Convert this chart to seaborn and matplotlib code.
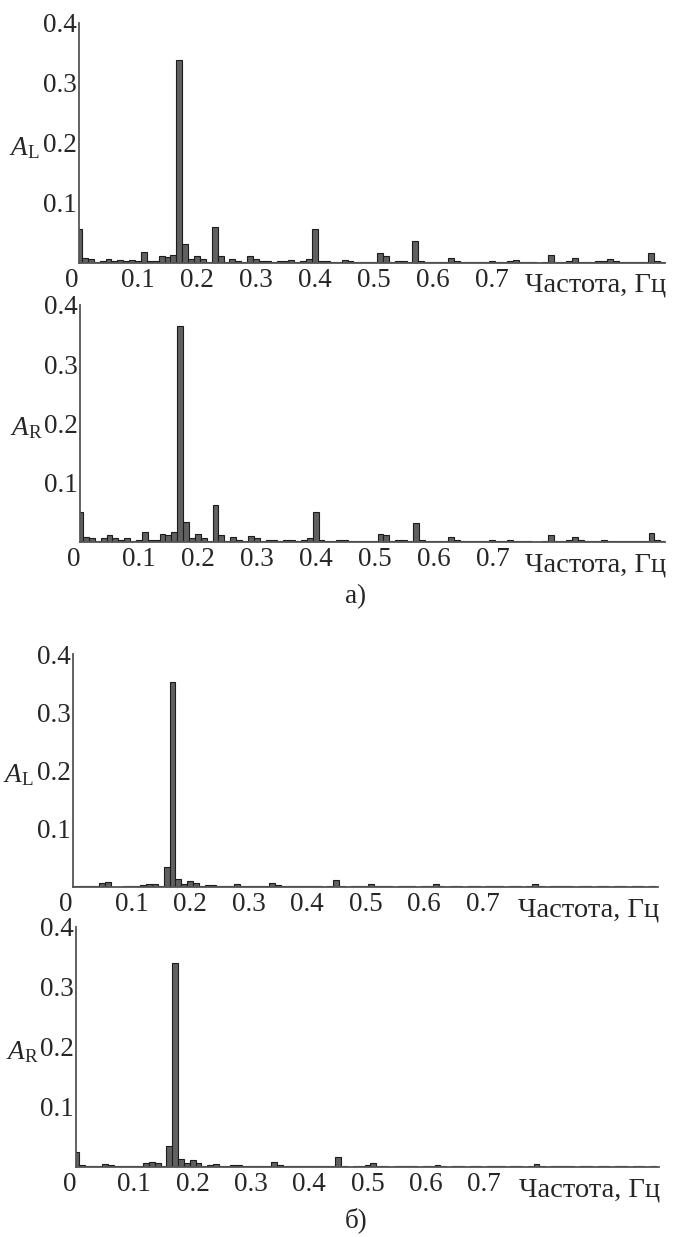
import numpy as np
import pandas as pd
import matplotlib
matplotlib.use("Agg")
import matplotlib.pyplot as plt
import seaborn as sns

# amplitude spectra, one value per 0.01 Hz bin (bin centres 0.00 ... 0.99 Hz)
amp_L_a = [0.057, 0.008, 0.007, 0.001, 0.004, 0.006, 0.004, 0.005, 0.004, 0.005,
           0.003, 0.018, 0.004, 0.004, 0.012, 0.010, 0.014, 0.339, 0.032, 0.006,
           0.011, 0.007, 0.002, 0.060, 0.011, 0.001, 0.006, 0.004, 0.001, 0.012,
           0.007, 0.004, 0.003, 0.002, 0.003, 0.004, 0.005, 0.001, 0.003, 0.006,
           0.057, 0.003, 0.003, 0.001, 0.001, 0.005, 0.003, 0.001, 0.001, 0.001,
           0.001, 0.016, 0.012, 0.001, 0.003, 0.003, 0.001, 0.037, 0.003, 0.001,
           0.002, 0.002, 0.001, 0.008, 0.003, 0.001, 0.001, 0.001, 0.002, 0.002,
           0.003, 0.001, 0.001, 0.003, 0.005, 0.001, 0.001, 0.001, 0.000, 0.001,
           0.014, 0.002, 0.002, 0.003, 0.008, 0.002, 0.001, 0.002, 0.003, 0.003,
           0.007, 0.003, 0.001, 0.001, 0.001, 0.001, 0.001, 0.016, 0.004, 0.001]

amp_R_a = [0.051, 0.009, 0.006, 0.001, 0.006, 0.012, 0.007, 0.004, 0.006, 0.001,
           0.004, 0.017, 0.004, 0.004, 0.013, 0.012, 0.017, 0.364, 0.034, 0.006,
           0.013, 0.006, 0.001, 0.062, 0.012, 0.001, 0.008, 0.004, 0.001, 0.010,
           0.006, 0.001, 0.003, 0.003, 0.001, 0.003, 0.003, 0.001, 0.003, 0.006,
           0.050, 0.003, 0.002, 0.001, 0.003, 0.003, 0.001, 0.001, 0.001, 0.001,
           0.001, 0.014, 0.012, 0.001, 0.003, 0.003, 0.001, 0.032, 0.003, 0.001,
           0.001, 0.002, 0.001, 0.008, 0.003, 0.001, 0.001, 0.001, 0.002, 0.002,
           0.004, 0.001, 0.001, 0.003, 0.001, 0.001, 0.001, 0.000, 0.000, 0.001,
           0.012, 0.002, 0.002, 0.004, 0.008, 0.003, 0.001, 0.002, 0.002, 0.003,
           0.002, 0.001, 0.001, 0.001, 0.001, 0.001, 0.001, 0.016, 0.004, 0.001]

amp_L_b = [0.001, 0.001, 0.001, 0.001, 0.001, 0.007, 0.008, 0.000, 0.000, 0.002,
           0.002, 0.001, 0.004, 0.006, 0.005, 0.002, 0.035, 0.352, 0.013, 0.006,
           0.011, 0.007, 0.002, 0.004, 0.004, 0.002, 0.001, 0.002, 0.005, 0.001,
           0.002, 0.002, 0.001, 0.001, 0.007, 0.004, 0.001, 0.001, 0.002, 0.002,
           0.001, 0.001, 0.001, 0.000, 0.001, 0.012, 0.001, 0.000, 0.001, 0.001,
           0.001, 0.006, 0.002, 0.002, 0.001, 0.000, 0.002, 0.002, 0.001, 0.000,
           0.001, 0.001, 0.005, 0.001, 0.000, 0.001, 0.001, 0.000, 0.002, 0.001,
           0.000, 0.002, 0.002, 0.002, 0.000, 0.001, 0.001, 0.000, 0.001, 0.006,
           0.001, 0.000, 0.001, 0.001, 0.002, 0.001, 0.000, 0.001, 0.001, 0.000,
           0.002, 0.001, 0.000, 0.001, 0.001, 0.000, 0.001, 0.001, 0.000, 0.001]

amp_R_b = [0.025, 0.003, 0.002, 0.001, 0.001, 0.005, 0.004, 0.001, 0.001, 0.002,
           0.002, 0.001, 0.006, 0.008, 0.007, 0.002, 0.035, 0.340, 0.014, 0.006,
           0.011, 0.007, 0.002, 0.004, 0.005, 0.002, 0.001, 0.003, 0.003, 0.002,
           0.002, 0.002, 0.001, 0.001, 0.008, 0.004, 0.002, 0.001, 0.002, 0.002,
           0.001, 0.001, 0.001, 0.001, 0.001, 0.017, 0.001, 0.000, 0.001, 0.001,
           0.003, 0.006, 0.001, 0.001, 0.000, 0.001, 0.001, 0.002, 0.001, 0.000,
           0.001, 0.001, 0.004, 0.001, 0.000, 0.001, 0.001, 0.000, 0.002, 0.001,
           0.000, 0.001, 0.002, 0.001, 0.000, 0.001, 0.001, 0.000, 0.001, 0.005,
           0.001, 0.000, 0.001, 0.001, 0.002, 0.001, 0.000, 0.001, 0.001, 0.000,
           0.002, 0.001, 0.000, 0.001, 0.001, 0.000, 0.001, 0.001, 0.000, 0.001]

# frequency grid of the spectrum (0.01 Hz resolution)
freq = np.round(np.arange(len(amp_L_a)) * 0.01, 2)

x_ticks = [0, 0.1, 0.2, 0.3, 0.4, 0.5, 0.6, 0.7]
x_labels = ["0", "0.1", "0.2", "0.3", "0.4", "0.5", "0.6", "0.7"]
y_ticks = [0.1, 0.2, 0.3, 0.4]
y_labels = ["0.1", "0.2", "0.3", "0.4"]
x_title = "Частота, Гц"

sns.set_style("white")
plt.rcParams["font.family"] = ["Liberation Serif", "DejaVu Serif"]
plt.rcParams["mathtext.fontset"] = "custom"
plt.rcParams["mathtext.rm"] = "Liberation Serif"
plt.rcParams["mathtext.it"] = "Liberation Serif:italic"

W, H = 673, 1237
fig = plt.figure(figsize=(W / 100, H / 100), dpi=100)

# (data, y label, axes box in pixels: left, top, right, bottom, x max)
panels = [
    (amp_L_a, r"$A_\mathrm{L}$", (79, 23, 665, 263), 0.993),
    (amp_R_a, r"$A_\mathrm{R}$", (80, 305, 665, 542), 0.993),
    (amp_L_b, r"$A_\mathrm{L}$", (73, 654, 658, 887), 1.0),
    (amp_R_b, r"$A_\mathrm{R}$", (76, 927, 659, 1167), 1.0),
]

FS = 19.5
for amp, lab, (x0, y0, x1, y1), xmax in panels:
    ax = fig.add_axes([x0 / W, 1 - y1 / H, (x1 - x0) / W, (y1 - y0) / H])
    df = pd.DataFrame({"freq": freq, "amp": amp})
    sns.histplot(data=df, x="freq", weights="amp", binwidth=0.01,
                 binrange=(-0.005, 0.995), color="#606060",
                 edgecolor="#1c1c1c", linewidth=0.8, alpha=1, ax=ax)
    ax.set_xlim(0, xmax)
    ax.set_ylim(0, 0.4)
    ax.set_xticks(x_ticks)
    ax.set_xticklabels(x_labels, fontsize=FS)
    ax.get_xticklabels()[0].set_horizontalalignment("right")
    ax.set_yticks(y_ticks)
    ax.set_yticklabels(y_labels, fontsize=FS)
    ax.tick_params(axis="x", length=0, pad=3.5)
    ax.tick_params(axis="y", length=0, pad=1.5)
    ax.set_xlabel("")
    ax.set_ylabel("")
    sns.despine(ax=ax)
    for s in ["left", "bottom"]:
        ax.spines[s].set_color("#555555")
        ax.spines[s].set_linewidth(1.3)
    ax.annotate(lab, xy=(0, 0.2), xycoords=("axes fraction", "data"),
                xytext=(-70, -5), textcoords="offset pixels",
                ha="left", va="center", fontsize=FS)
    ax.annotate(x_title, xy=(1, 0), xycoords="axes fraction",
                xytext=(1, -29), textcoords="offset pixels",
                ha="right", va="baseline", fontsize=20.5)

fig.text(356 / W, 1 - 597 / H, "а)", ha="center", va="center", fontsize=FS)
fig.text(356 / W, 1 - 1220 / H, "б)", ha="center", va="center", fontsize=FS)

fig.savefig("out.png", dpi=100)
